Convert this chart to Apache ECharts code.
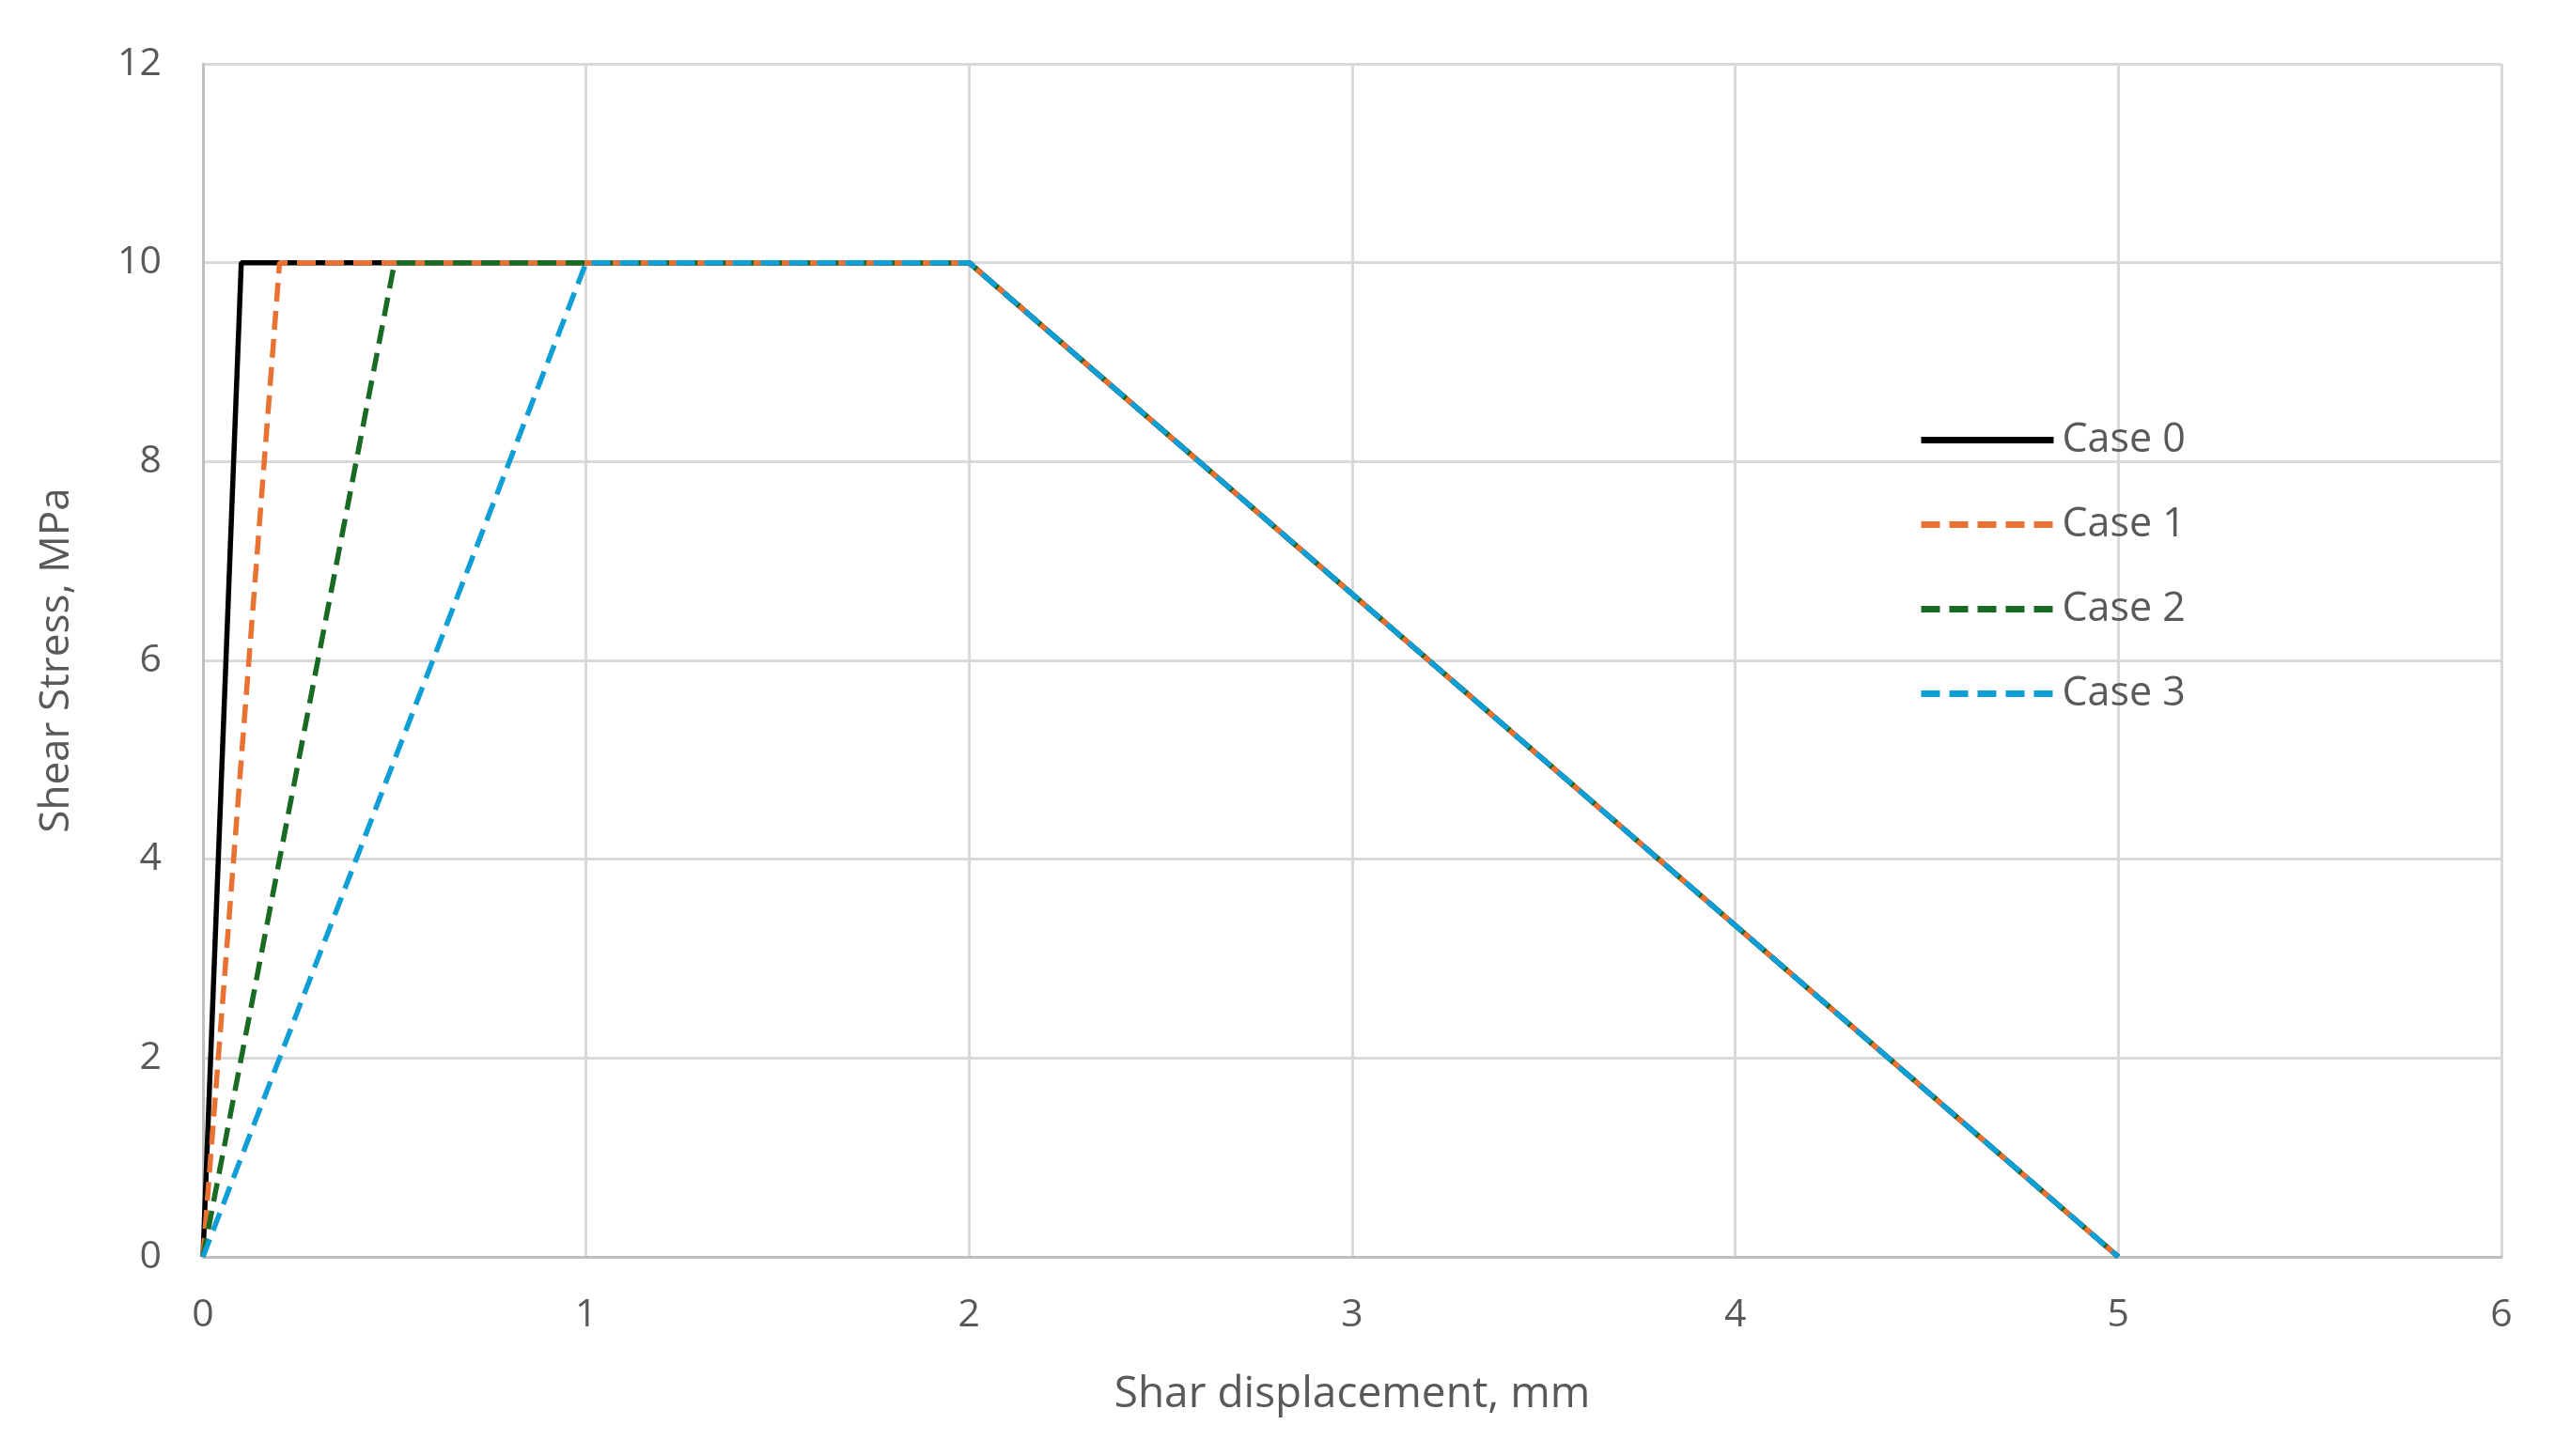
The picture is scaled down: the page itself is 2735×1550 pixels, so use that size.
<!DOCTYPE html>
<html>
<head>
<meta charset="utf-8">
<script src="https://cdn.jsdelivr.net/npm/echarts@6/dist/echarts.min.js"></script>
<style>
  html, body { margin: 0; padding: 0; background: #fff; }
  #chart { width: 2735px; height: 1550px; }
</style>
</head>
<body>
<div id="chart"></div>
<script>
// shear displacement (mm) / shear stress (MPa) for each case
const seriesNames = ["Case 0", "Case 1", "Case 2", "Case 3"];
const case0 = [[0, 0], [0.1, 10], [2, 10], [5, 0]];
const case1 = [[0, 0], [0.2, 10], [2, 10], [5, 0]];
const case2 = [[0, 0], [0.5, 10], [2, 10], [5, 0]];
const case3 = [[0, 0], [1, 10], [2, 10], [5, 0]];
const colors = ["#000000", "#E97132", "#196B24", "#0F9ED5"];
const lineTypes = ["solid", [20, 10], [20, 10], [20, 10]];

const allData = [case0, case1, case2, case3];
const textColor = "#595959";
const gridColor = "#d9d9d9";

let chart = echarts.init(document.getElementById("chart"));
chart.setOption({
  animation: false,
  backgroundColor: "#fff",
  textStyle: { fontFamily: "'Open Sans', sans-serif" },
  grid: { left: 216, right: 73, top: 68, bottom: 212 },
  legend: {
    orient: "vertical",
    left: 2036,
    top: 442,
    itemWidth: 141,
    itemHeight: 40,
    itemGap: 47,
    itemStyle: { opacity: 0 },
    lineStyle: { width: 7 },
    textStyle: { color: textColor, fontSize: 43, padding: [0, 0, 0, 4] },
    data: seriesNames,
  },
  xAxis: {
    type: "value",
    min: 0,
    max: 6,
    interval: 1,
    name: "Shar displacement, mm",
    nameLocation: "middle",
    nameGap: 124,
    nameTextStyle: { color: textColor, fontSize: 46 },
    axisLine: { show: true, lineStyle: { color: "#bfbfbf", width: 3 } },
    axisTick: { show: false },
    axisLabel: { color: textColor, fontSize: 41, margin: 42 },
    splitLine: { show: true, lineStyle: { color: gridColor, width: 3 } },
  },
  yAxis: {
    type: "value",
    min: 0,
    max: 12,
    interval: 2,
    name: "Shear Stress, MPa",
    nameLocation: "middle",
    nameGap: 134,
    nameTextStyle: { color: textColor, fontSize: 44 },
    axisLine: { show: true, lineStyle: { color: "#bfbfbf", width: 3 } },
    axisTick: { show: false },
    axisLabel: { color: textColor, fontSize: 41, margin: 44 },
    splitLine: { show: true, lineStyle: { color: gridColor, width: 3 } },
  },
  series: allData.map((d, i) => ({
    name: seriesNames[i],
    type: "line",
    data: d,
    symbol: "none",
    color: colors[i],
    lineStyle: { color: colors[i], width: 5.5, type: lineTypes[i], cap: "butt" },
    z: 2 + i,
  })),
});
</script>
</body>
</html>
